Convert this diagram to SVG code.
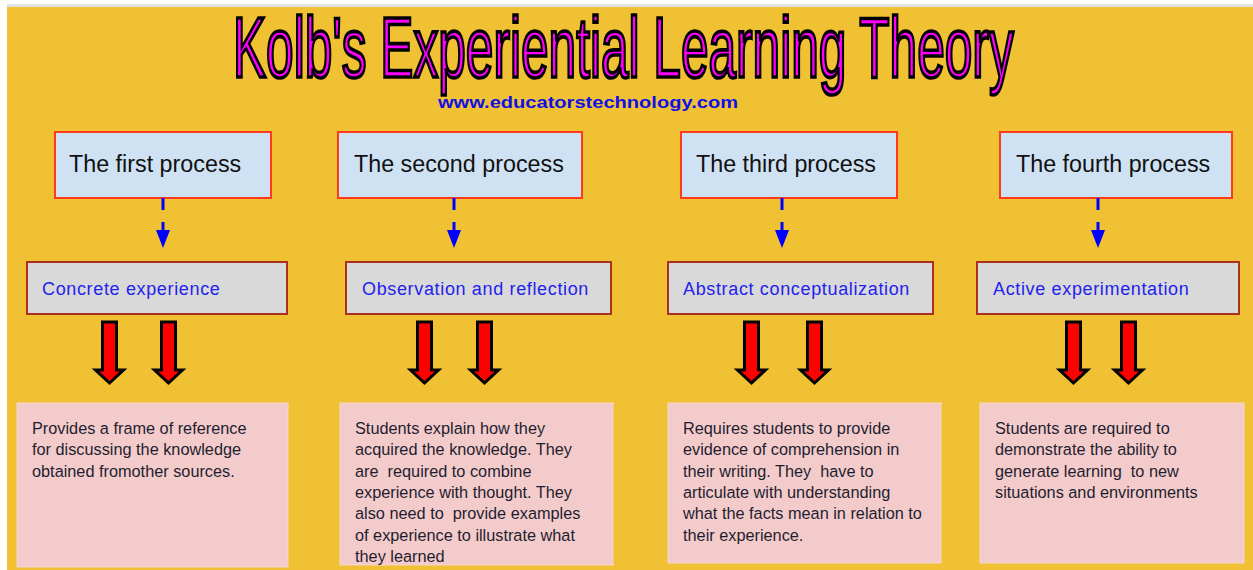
<svg xmlns="http://www.w3.org/2000/svg" width="1253" height="570" viewBox="0 0 1253 570">
  <style>
    .head rect { fill: #CFE2F3; stroke: #FF3B1F; stroke-width: 2; }
    .head text { font-family: "Liberation Sans", Arial, sans-serif; font-size: 23.3px; fill: #111111; }
    .stage rect { fill: #D9D9D9; stroke: #A8321E; stroke-width: 2; }
    .stage text { font-family: "Liberation Sans", Arial, sans-serif; font-size: 18px; letter-spacing: 0.65px; fill: #2222EE; }
    .note rect { fill: #F4CBCB; stroke: #F6D5CF; stroke-width: 1; }
    .note text { font-family: "Liberation Sans", Arial, sans-serif; font-size: 16.3px; fill: #1E1E30; white-space: pre; }
    .link { stroke: #0000FF; stroke-width: 3; stroke-dasharray: 12 12; fill: none; }
    .block { fill: #FF0000; stroke: #000000; stroke-width: 3; stroke-linejoin: miter; }
  </style>
  <defs>
    <marker id="tip" markerUnits="userSpaceOnUse" markerWidth="18" markerHeight="14" refX="0" refY="7" orient="auto">
      <path d="M0,0 L18,7 L0,14 Z" fill="#0000FF"/>
    </marker>
    <path id="bigArrow" d="M-7,0 H7 V48 H14 L0,61 L-14,48 H-7 Z"/>
  </defs>

  <!-- page background -->
  <rect x="0" y="0" width="1253" height="570" fill="#FFFFFF"/>
  <rect x="7" y="4" width="1246" height="3" fill="#E2E2E2"/>
  <rect x="7" y="7" width="1246" height="563" fill="#F0C132"/>

  <!-- title: tall condensed lettering, squeezed horizontally -->
  <g id="title">
    <text transform="translate(233,77) scale(0.577,1)" x="0" y="0" font-family="'Liberation Sans', Arial, sans-serif" font-size="86" fill="#FF00FF" stroke="#000000" stroke-width="3" vector-effect="non-scaling-stroke">Kolb's Experiential Learning Theory</text>
    <text x="438" y="108" textLength="300" lengthAdjust="spacingAndGlyphs" font-family="'Liberation Sans', Arial, sans-serif" font-size="17" font-weight="bold" fill="#1010E6">www.educatorstechnology.com</text>
  </g>

  <!-- process headers -->
  <g id="process1" class="head"><rect x="55" y="132" width="216" height="66"/><text x="69" y="172">The first process</text></g>
  <g id="process2" class="head"><rect x="338" y="132" width="244" height="66"/><text x="354" y="172">The second process</text></g>
  <g id="process3" class="head"><rect x="681" y="132" width="216" height="66"/><text x="696" y="172">The third process</text></g>
  <g id="process4" class="head"><rect x="1000" y="132" width="232" height="66"/><text x="1016" y="172">The fourth process</text></g>

  <!-- learning stages -->
  <g id="stage1" class="stage"><rect x="27" y="262" width="260" height="52"/><text x="42" y="295">Concrete experience</text></g>
  <g id="stage2" class="stage"><rect x="346" y="262" width="265" height="52"/><text x="362" y="295">Observation and reflection</text></g>
  <g id="stage3" class="stage"><rect x="668" y="262" width="265" height="52"/><text x="683" y="295">Abstract conceptualization</text></g>
  <g id="stage4" class="stage"><rect x="977" y="262" width="262" height="52"/><text x="993" y="295">Active experimentation</text></g>

  <!-- descriptions -->
  <g id="note1" class="note">
    <rect x="17" y="403" width="271" height="164"/>
    <text x="32" y="434">Provides a frame of reference</text>
    <text x="32" y="455.3">for discussing the knowledge</text>
    <text x="32" y="476.6">obtained fromother sources.</text>
  </g>
  <g id="note2" class="note">
    <rect x="340" y="403" width="273" height="162"/>
    <text x="355" y="434">Students explain how they</text>
    <text x="355" y="455.3">acquired the knowledge. They</text>
    <text x="355" y="476.6">are  required to combine</text>
    <text x="355" y="497.9">experience with thought. They</text>
    <text x="355" y="519.2">also need to  provide examples</text>
    <text x="355" y="540.5">of experience to illustrate what</text>
    <text x="355" y="561.8">they learned</text>
  </g>
  <g id="note3" class="note">
    <rect x="668" y="403" width="273" height="160"/>
    <text x="683" y="434">Requires students to provide</text>
    <text x="683" y="455.3">evidence of comprehension in</text>
    <text x="683" y="476.6">their writing. They  have to</text>
    <text x="683" y="497.9">articulate with understanding</text>
    <text x="683" y="519.2">what the facts mean in relation to</text>
    <text x="683" y="540.5">their experience.</text>
  </g>
  <g id="note4" class="note">
    <rect x="980" y="403" width="264" height="160"/>
    <text x="995" y="434">Students are required to</text>
    <text x="995" y="455.3">demonstrate the ability to</text>
    <text x="995" y="476.6">generate learning  to new</text>
    <text x="995" y="497.9">situations and environments</text>
  </g>

  <!-- connectors -->
  <g id="connectors">
    <line class="link" x1="163" y1="198" x2="163" y2="230" marker-end="url(#tip)"/>
    <line class="link" x1="454" y1="198" x2="454" y2="230" marker-end="url(#tip)"/>
    <line class="link" x1="782" y1="198" x2="782" y2="230" marker-end="url(#tip)"/>
    <line class="link" x1="1098" y1="198" x2="1098" y2="230" marker-end="url(#tip)"/>

    <use href="#bigArrow" class="block" x="109.5" y="322"/>
    <use href="#bigArrow" class="block" x="168.5" y="322"/>
    <use href="#bigArrow" class="block" x="424.5" y="322"/>
    <use href="#bigArrow" class="block" x="484.5" y="322"/>
    <use href="#bigArrow" class="block" x="751.5" y="322"/>
    <use href="#bigArrow" class="block" x="814.5" y="322"/>
    <use href="#bigArrow" class="block" x="1073.5" y="322"/>
    <use href="#bigArrow" class="block" x="1128.5" y="322"/>
  </g>
</svg>
